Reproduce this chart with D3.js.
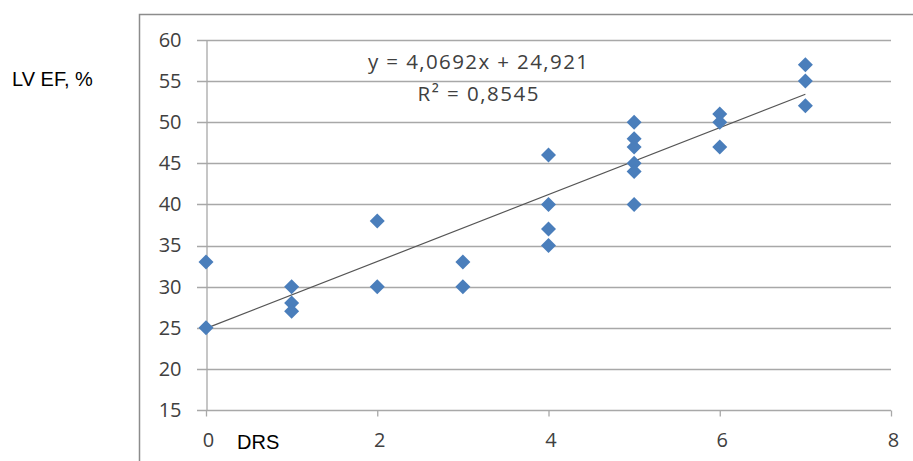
<!DOCTYPE html>
<html><head><meta charset="utf-8">
<script src="https://cdn.jsdelivr.net/npm/d3@7"></script>
<style>body{margin:0;background:#fff;}svg{display:block;font-family:"Open Sans","Liberation Sans",sans-serif;}</style>
</head><body>
<svg id="c" width="913" height="461"></svg>
<script>
const drsValues = [0,0, 1,1,1, 2,2, 3,3, 4,4,4,4, 5,5,5,5,5,5, 6,6,6, 7,7,7];
const lvefValues = [33,25, 30,28,27, 38,30, 33,30, 46,40,37,35, 50,48,47,45,44,40, 51,50,47, 57,55,52];
const xTicks = [0,2,4,6,8];
const yTicks = [15,20,25,30,35,40,45,50,55,60];
const trendSlope = 4.0692, trendIntercept = 24.921;
const trendLabels = ["y = 4,0692x + 24,921", "R² = 0,8545"];
const points = drsValues.map((d,i)=>({x:d,y:lvefValues[i]}));

const svg = d3.select("#c");
const x = d3.scaleLinear().domain([0,8]).range([206,891]);
const y = d3.scaleLinear().domain([15,60]).range([410,40]);

// chart area border
svg.append("path").attr("d","M139.5,470 V14.5 H920").attr("fill","none").attr("stroke","#8c8c8c").attr("stroke-width",1.5);

// gridlines
svg.append("g").selectAll("line").data(yTicks).join("line")
  .attr("x1",197).attr("x2",x(8)).attr("y1",d=>Math.round(y(d))+0.5).attr("y2",d=>Math.round(y(d))+0.5)
  .attr("stroke","#a8a8a8").attr("stroke-width",1.3);

// y axis
const ya = svg.append("g").attr("transform",`translate(${x(0)+0.5},0)`)
  .call(d3.axisLeft(y).tickValues(yTicks).tickSize(0).tickPadding(25));
ya.select(".domain").attr("stroke","#a8a8a8").attr("stroke-width",1.3);
ya.selectAll("text").attr("font-size",20).attr("fill","#404040").attr("font-family","Open Sans, Liberation Sans, sans-serif");

// x axis
const xa = svg.append("g").attr("transform",`translate(0,${Math.round(y(15))+0.5})`)
  .call(d3.axisBottom(x).tickValues(xTicks).tickSize(6).tickPadding(16));
xa.select(".domain").remove();
xa.selectAll("line").attr("stroke","#a8a8a8").attr("stroke-width",1.3);
xa.selectAll("text").attr("font-size",20).attr("fill","#404040").attr("dx",2).attr("font-family","Open Sans, Liberation Sans, sans-serif");

// trendline
svg.append("line")
  .attr("x1",x(0)).attr("y1",y(trendIntercept))
  .attr("x2",x(7)).attr("y2",y(trendIntercept+trendSlope*7))
  .attr("stroke","#555").attr("stroke-width",1.2);

// points
const s = 7.5;
svg.append("g").selectAll("path").data(points).join("path")
  .attr("d",d=>{const cx=x(d.x), cy=y(d.y);return `M${cx},${cy-s}L${cx+s},${cy}L${cx},${cy+s}L${cx-s},${cy}Z`;})
  .attr("fill","#4a7ebb");

// trend labels
svg.append("g").selectAll("text").data(trendLabels).join("text")
  .attr("x",478).attr("y",(d,i)=>i===0?69:101).attr("text-anchor","middle")
  .attr("font-size",20.5).attr("fill","#404040")
  .attr("textLength",(d,i)=>i===0?220:121).attr("lengthAdjust","spacing")
  .text(d=>d);

// axis titles
svg.append("text").attr("x",12).attr("y",86).attr("font-size",20).attr("fill","#000")
  .attr("font-family","Liberation Sans, sans-serif").text("LV EF, %");
svg.append("text").attr("x",237).attr("y",449).attr("font-size",20).attr("fill","#000")
  .attr("font-family","Liberation Sans, sans-serif").text("DRS");
</script>
</body></html>
